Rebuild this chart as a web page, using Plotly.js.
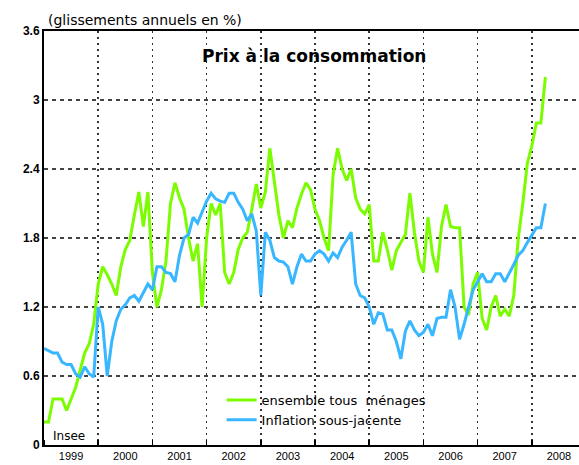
<!DOCTYPE html>
<html>
<head>
<meta charset="utf-8">
<script src="https://cdn.plot.ly/plotly-3.0.1.min.js"></script>
<style>html,body{margin:0;padding:0;background:#fff;}#chart{width:579px;height:465px;}</style>
</head>
<body>
<div id="chart"></div>
<script>
// Monthly series, January 1999 to April 2008
var startYear = 1999;
var ensembleTousMenages = [
  0.2, 0.2, 0.4, 0.4, 0.4, 0.3, 0.4, 0.5, 0.65, 0.8, 0.88, 1.05,
  1.4, 1.55, 1.48, 1.4, 1.3, 1.55, 1.7, 1.78, 2.0, 2.2, 1.9, 2.2,
  1.5, 1.2, 1.35, 1.6, 2.1, 2.28, 2.15, 2.05, 1.8, 1.6, 1.75, 1.2,
  1.8, 2.1, 2.0, 2.1, 1.5, 1.4, 1.5, 1.7, 1.8, 1.85, 2.05, 2.27,
  2.06, 2.2, 2.58, 2.3, 2.0, 1.8, 1.95, 1.89, 2.06, 2.18, 2.28, 2.22,
  2.05, 1.95, 1.8, 1.69, 2.35, 2.58, 2.4, 2.3, 2.4, 2.15, 2.05, 2.01,
  2.09, 1.6, 1.6, 1.85, 1.7, 1.52, 1.69, 1.76, 1.83, 2.19, 1.85, 1.6,
  1.5, 1.98, 1.66, 1.5, 1.9, 2.09, 1.9, 1.89, 1.89, 1.2, 1.13, 1.4,
  1.5, 1.1, 1.0, 1.2, 1.3, 1.12, 1.18, 1.12, 1.3, 1.8, 2.1, 2.45,
  2.6, 2.8, 2.8, 3.2
];
var inflationSousJacente = [
  0.84, 0.82, 0.8, 0.8, 0.72, 0.7, 0.7, 0.62, 0.59, 0.68, 0.62, 0.59,
  1.2, 1.05, 0.6, 0.9, 1.08, 1.18, 1.22, 1.28, 1.3, 1.25, 1.32, 1.4,
  1.35, 1.55, 1.55, 1.5, 1.49, 1.42, 1.65, 1.8, 1.83, 1.98, 1.93, 2.02,
  2.12, 2.19, 2.14, 2.12, 2.11, 2.19, 2.19, 2.11, 2.05, 1.95, 2.01, 1.86,
  1.3, 1.85, 1.78, 1.63, 1.6, 1.59, 1.55, 1.4, 1.55, 1.66, 1.6, 1.6,
  1.66, 1.69, 1.66, 1.6, 1.67, 1.63, 1.72, 1.78, 1.85, 1.4, 1.3, 1.28,
  1.2, 1.05, 1.15, 1.14, 1.0, 1.0, 0.9, 0.75, 0.99, 1.08, 1.0, 0.95,
  0.98, 1.05, 0.95, 1.1, 1.11, 1.11, 1.35, 1.2, 0.92, 1.05, 1.2, 1.35,
  1.42, 1.49, 1.42, 1.42, 1.49, 1.49, 1.42, 1.49, 1.57, 1.65, 1.69, 1.76,
  1.83, 1.89, 1.89, 2.1
];
var yearLabels = ["1999","2000","2001","2002","2003","2004","2005","2006","2007","2008"];
var yTickVals = [0, 0.6, 1.2, 1.8, 2.4, 3, 3.6];
var yTickText = ["0", "0.6", "1.2", "1.8", "2.4", "3", "3.6"];
var seriesNames = ["ensemble tous  ménages", "Inflation sous-jacente"];

function monthsToX(arr) {
  return arr.map(function (_, i) { return startYear + i / 12; });
}
var yearMid = yearLabels.map(function (y) { return Number(y) + 0.5; });

var traces = [
  {
    x: monthsToX(ensembleTousMenages), y: ensembleTousMenages,
    type: 'scatter', mode: 'lines', name: seriesNames[0],
    line: {color: '#7cfc00', width: 3}
  },
  {
    x: monthsToX(inflationSousJacente), y: inflationSousJacente,
    type: 'scatter', mode: 'lines', name: seriesNames[1],
    line: {color: '#38b6ff', width: 3}
  }
];

var wide = 'DejaVu Sans, Verdana, sans-serif';
var layout = {
  width: 579, height: 465,
  margin: {l: 44, r: 0, t: 31, b: 20},
  paper_bgcolor: '#fff', plot_bgcolor: '#fff',
  font: {family: 'Liberation Sans, Arial, sans-serif', color: '#000', size: 12},
  showlegend: true,
  legend: {
    x: 0.332, y: 0.145, xanchor: 'left', yanchor: 'top',
    bgcolor: 'rgba(0,0,0,0)', font: {size: 13, color: '#000', family: wide},
    tracegroupgap: 0, itemwidth: 30
  },
  xaxis: {
    range: [1999, 2008.87],
    tickmode: 'array', tickvals: yearMid, ticktext: yearLabels,
    ticks: '', showgrid: false, zeroline: false,
    showline: true, linecolor: '#000', linewidth: 2, mirror: true,
    tickfont: {size: 11, color: '#000'},
    minor: {dtick: 1, tick0: 1999, showgrid: true, griddash: '2px,4px', gridcolor: '#333', gridwidth: 1.5,
            ticks: 'inside', ticklen: 5, tickcolor: '#000', tickwidth: 1.5}
  },
  yaxis: {
    range: [0, 3.6],
    tickmode: 'array', tickvals: yTickVals, ticktext: yTickText,
    ticks: '', showgrid: true, griddash: '4px,4px', gridcolor: '#444', gridwidth: 1.5,
    zeroline: false, showline: true, linecolor: '#000', linewidth: 2,
    tickfont: {size: 12, color: '#000', weight: 'bold'}
  },
  annotations: [
    {text: '(glissements annuels en %)', xref: 'paper', yref: 'paper', x: 0.004, y: 1.003,
     xanchor: 'left', yanchor: 'bottom', showarrow: false, font: {size: 14, color: '#000', family: wide}},
    {text: '<b>Prix à la consommation</b>', xref: 'paper', yref: 'paper', x: 0.505, y: 0.94,
     xanchor: 'center', yanchor: 'middle', showarrow: false, font: {size: 17, color: '#000', family: wide}},
    {text: 'Insee', xref: 'paper', yref: 'paper', x: 0.014, y: 0.0,
     xanchor: 'left', yanchor: 'bottom', showarrow: false, font: {size: 12, color: '#000', family: wide}}
  ]
};

Plotly.newPlot('chart', traces, layout, {displayModeBar: false, staticPlot: true});
</script>
</body>
</html>
